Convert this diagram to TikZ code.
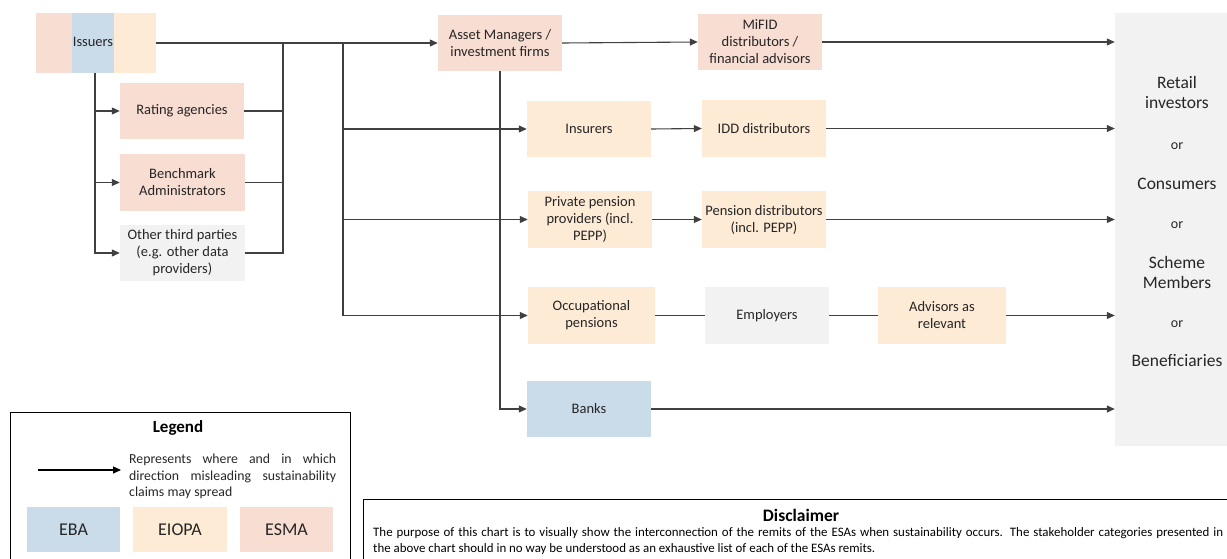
\documentclass[tikz,border=0pt]{standalone}
\usepackage{fontspec}
\setmainfont{Carlito}
\usetikzlibrary{arrows.meta}
\definecolor{esma}{HTML}{F8DDD2}
\definecolor{eiopa}{HTML}{FDEBD6}
\definecolor{eba}{HTML}{CADCEA}
\definecolor{oth}{HTML}{F2F2F2}
\definecolor{txt}{HTML}{262626}
\definecolor{ln}{HTML}{404040}
\begin{document}
\begin{tikzpicture}[x=1pt,y=-1pt,
  box/.style={rectangle, inner sep=1pt, align=center, text=txt, font=\fontsize{14.5}{17}\selectfont},
  conn/.style={draw=ln, line width=1.1pt},
  arr/.style={conn, -{Triangle[length=8pt,width=7pt]}},
]
\useasboundingbox (0,0) rectangle (1227,559);
\clip (0,0) rectangle (1227,559);
% Issuers (three regulators)
\fill[esma] (36,13) rectangle (72,73);
\fill[eba] (72,13) rectangle (114,73);
\fill[eiopa] (114,13) rectangle (156,73);
\node[box, minimum width=120, minimum height=60, inner sep=0] (iss) at (96,43) {};
\node[box] (isslbl) at (93,42) {Issuers};
% left column
\node[box, fill=esma, minimum width=124, minimum height=56] (ra) at (182,111) {Rating agencies};
\node[box, fill=esma, minimum width=125, minimum height=57] (bench) at (182.5,182.5) {Benchmark\\Administrators};
\node[box, fill=oth, minimum width=125, minimum height=56] (other) at (182.5,253) {Other third parties\\(e.g. other data\\providers)};
% middle
\node[box, fill=esma, minimum width=124, minimum height=56] (am) at (500,43) {Asset Managers /\\investment firms};
\node[box, fill=esma, minimum width=124, minimum height=56] (mifid) at (760,42) {MiFID\\distributors /\\financial advisors};
\node[box, fill=eiopa, minimum width=124, minimum height=56] (ins) at (589,129) {Insurers};
\node[box, fill=eiopa, minimum width=124, minimum height=57] (idd) at (764,128.5) {IDD distributors};
\node[box, fill=eiopa, minimum width=124, minimum height=57] (ppp) at (590,219.5) {Private pension\\providers (incl.\\PEPP)};
\node[box, fill=eiopa, minimum width=124, minimum height=57] (pd) at (764,219.5) {Pension distributors\\(incl. PEPP)};
\node[box, fill=eiopa, minimum width=127, minimum height=57] (occ) at (591.5,315.5) {Occupational\\pensions};
\node[box, fill=oth, minimum width=124, minimum height=57] (emp) at (767,315.5) {Employers};
\node[box, fill=eiopa, minimum width=128, minimum height=57] (adv) at (942,315.5) {Advisors as\\relevant};
\node[box, fill=eba, minimum width=124, minimum height=56] (banks) at (589,409) {Banks};
% retail
\node[box, fill=oth, minimum width=125, minimum height=433, inner sep=0] (retail) at (1177.5,229.5) {};
\node[box, font=\fontsize{17.5}{20}\selectfont] (retailtxt) at (1177,221) {Retail\\investors\\[21pt]{\fontsize{14}{16}\selectfont or}\\[20pt]Consumers\\[19pt]{\fontsize{14}{16}\selectfont or}\\[20pt]Scheme\\Members\\[19pt]{\fontsize{14}{16}\selectfont or}\\[19pt]Beneficiaries};
% junctions
\coordinate (j1) at (283,43);
\coordinate (j2) at (343,43);
% connectors
\draw[arr] (iss.east) -- (am.west);
\draw[conn] (ra.east) -| (j1);
\draw[conn] (bench.east) -- (bench.east -| j1);
\draw[conn] (other.east) -| (j1);
\draw[arr] (iss.south -| 95,0) |- (other.west);
\draw[arr] (ra.west -| 95,0) -- (ra.west);
\draw[arr] (bench.west -| 95,0) -- (bench.west);
\draw[arr] (j2) |- (occ.west);
\draw[arr] (ins.west -| j2) -- (ins.west);
\draw[arr] (ppp.west -| j2) -- (ppp.west);
\draw[arr] (am.south) |- (banks.west);
\draw[arr] (am.east) -- (mifid.west);
\draw[arr] (mifid.east) -- (mifid.east -| retail.west);
\draw[arr] (ins.east) -- (idd.west);
\draw[arr] (idd.east) -- (idd.east -| retail.west);
\draw[arr] (ppp.east) -- (pd.west);
\draw[arr] (pd.east) -- (pd.east -| retail.west);
\draw[conn] (occ.east) -- (emp.west);
\draw[conn] (emp.east) -- (adv.west);
\draw[arr] (adv.east) -- (adv.east -| retail.west);
\draw[arr] (banks.east) -- (banks.east -| retail.west);
% legend
\node[draw=black, line width=0.8pt, minimum width=340, minimum height=170, anchor=north west, inner sep=0] (legend) at (10,412) {};
\node[text=black, font=\fontsize{17}{19}\selectfont\bfseries] (legtitle) at (178,428) {Legend};
\coordinate (la1) at (38,470);
\coordinate (la2) at (121,470);
\draw[conn, black, -{Triangle[length=8pt,width=7pt]}] (la1) -- (la2);
\node[anchor=north west, inner sep=0, align=left, text=txt, font=\fontsize{13.8}{16.5}\selectfont] (legtxt) at (129,454) {\makebox[207pt][s]{Represents where and in which}\\\makebox[207pt][s]{direction misleading sustainability}\\claims may spread};
\node[box, fill=eba, minimum width=93, minimum height=45, font=\fontsize{18}{20}\selectfont] (leba) at (73.5,529.5) {EBA};
\node[box, fill=eiopa, minimum width=94, minimum height=45, font=\fontsize{18}{20}\selectfont] (leiopa) at (180,529.5) {EIOPA};
\node[box, fill=esma, minimum width=93, minimum height=45, font=\fontsize{18}{20}\selectfont] (lesma) at (286.5,529.5) {ESMA};
% disclaimer
\node[draw=black, line width=0.8pt, minimum width=900, minimum height=90, anchor=north west, inner sep=0] (disc) at (363,499) {};
\node[text=black, font=\fontsize{17.5}{19}\selectfont\bfseries] (disctitle) at (801,515) {Disclaimer};
\node[anchor=north west, inner sep=0, align=left, text=black, font=\fontsize{12.9}{16}\selectfont] (disctxt) at (373,527) {\makebox[850pt][s]{The purpose of this chart is to visually show the interconnection of the remits of the ESAs when sustainability occurs. The stakeholder categories presented in}\\the above chart should in no way be understood as an exhaustive list of each of the ESAs remits.};
\end{tikzpicture}
\end{document}
